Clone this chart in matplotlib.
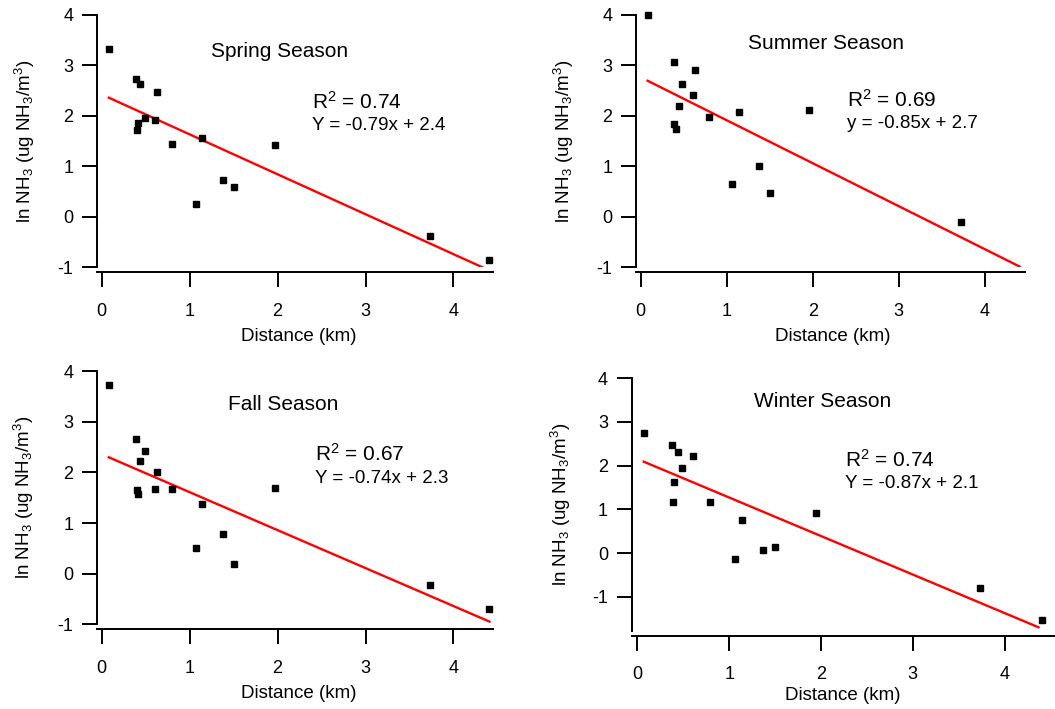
import numpy as np
import matplotlib
matplotlib.use("Agg")
import matplotlib.pyplot as plt

plt.rcParams['font.family'] = ['Liberation Sans', 'DejaVu Sans']
plt.rcParams['mathtext.default'] = 'regular'
plt.rcParams['axes.unicode_minus'] = False

# distances (km) and ln NH3 for each season
spring_x = [0.08, 0.39, 0.40, 0.41, 0.44, 0.49, 0.61, 0.63, 0.80, 1.07, 1.14, 1.38, 1.50, 1.97, 3.73, 4.41]
spring_y = [3.32, 2.72, 1.72, 1.85, 2.63, 1.95, 1.92, 2.47, 1.44, 0.25, 1.56, 0.73, 0.59, 1.42, -0.38, -0.86]

summer_x = [0.08, 0.39, 0.39, 0.41, 0.44, 0.48, 0.61, 0.63, 0.79, 1.06, 1.14, 1.37, 1.50, 1.96, 3.73]
summer_y = [4.00, 3.06, 1.84, 1.74, 2.20, 2.63, 2.41, 2.91, 1.98, 0.65, 2.08, 1.01, 0.475, 2.11, -0.10]

fall_x = [0.08, 0.39, 0.40, 0.41, 0.44, 0.49, 0.61, 0.63, 0.80, 1.07, 1.14, 1.38, 1.50, 1.97, 3.73, 4.41]
fall_y = [3.73, 2.66, 1.66, 1.58, 2.23, 2.43, 1.68, 2.01, 1.68, 0.51, 1.38, 0.78, 0.20, 1.70, -0.22, -0.70]

winter_x = [0.07, 0.38, 0.39, 0.40, 0.44, 0.49, 0.61, 0.79, 1.06, 1.14, 1.37, 1.50, 1.95, 3.73, 4.41]
winter_y = [2.74, 2.47, 1.17, 1.62, 2.32, 1.94, 2.23, 1.17, -0.14, 0.76, 0.07, 0.14, 0.92, -0.80, -1.53]

titles = ["Spring Season", "Summer Season", "Fall Season", "Winter Season"]
r2_labels = ["0.74", "0.69", "0.67", "0.74"]
eq_labels = ["Y = -0.79x + 2.4", "y = -0.85x + 2.7", "Y = -0.74x + 2.3", "Y = -0.87x + 2.1"]
slopes = [-0.79, -0.85, -0.75, -0.88]
intercepts = [2.42, 2.76, 2.36, 2.15]
# fitted line drawn from first site out to this distance
fit_end = [4.41, 4.41, 4.41, 4.37]

xs = [spring_x, summer_x, fall_x, winter_x]
ys = [spring_y, summer_y, fall_y, winter_y]

# panel layout (figure fractions) and limits
rects = [[0.0919, 0.6230, 0.3754, 0.3563],
         [0.6026, 0.6230, 0.3690, 0.3563],
         [0.0919, 0.1195, 0.3754, 0.3568],
         [0.5988, 0.1100, 0.4056, 0.3568]]
xlims = [(-0.055, 4.45), (-0.058, 4.47), (-0.055, 4.45), (-0.061, 4.60)]
ylims = [(-1, 4), (-1, 4), (-1, 4), (-1.78, 4)]
title_pos = [(0.462, 0.854), (0.488, 0.887), (0.470, 0.867), (0.446, 0.906)]
r2_pos = [(0.542, 0.629), (0.542, 0.636), (0.551, 0.645), (0.498, 0.649)]
eq_pos = [(0.542, 0.544), (0.542, 0.550), (0.551, 0.560), (0.498, 0.564)]
ylab_x = [-0.152, -0.153, -0.154, -0.137]
xlab_pos = [(0.51, -0.240), (0.506, -0.240), (0.51, -0.240), (0.493, -0.220)]

fig = plt.figure(figsize=(10.55, 7.09), dpi=100)

for i in range(4):
    ax = fig.add_axes(rects[i])
    x = np.array(xs[i])
    y = np.array(ys[i])
    xl = np.array([x.min(), fit_end[i]])
    ax.plot(xl, slopes[i] * xl + intercepts[i], color='#ff0000', lw=1.7)
    ax.plot(x, y, 's', color='black', ms=4.5, clip_on=False, zorder=3)
    ax.set_xlim(*xlims[i])
    ax.set_ylim(*ylims[i])
    ax.set_xticks([0, 1, 2, 3, 4])
    ax.set_yticks([-1, 0, 1, 2, 3, 4])
    ax.spines['top'].set_visible(False)
    ax.spines['right'].set_visible(False)
    ax.spines['bottom'].set_position(('outward', 3.5))
    for s in ['left', 'bottom']:
        ax.spines[s].set_linewidth(1.4)
    ax.tick_params(axis='both', direction='out', length=11, width=1.4, labelsize=13)
    ax.tick_params(axis='x', pad=11)
    ax.tick_params(axis='y', pad=6)
    ax.set_xlabel("Distance (km)", fontsize=13.5)
    ax.xaxis.set_label_coords(*xlab_pos[i])
    ax.set_ylabel(r"ln NH$_3$ (ug NH$_3$/m$^3$)", fontsize=13.5)
    ax.yaxis.set_label_coords(ylab_x[i], 0.5)
    ax.text(title_pos[i][0], title_pos[i][1], titles[i], transform=ax.transAxes,
            ha='center', va='center', fontsize=15)
    ax.text(r2_pos[i][0], r2_pos[i][1], "R$^2$ = " + r2_labels[i], transform=ax.transAxes,
            ha='left', va='baseline', fontsize=15)
    ax.text(eq_pos[i][0], eq_pos[i][1], eq_labels[i], transform=ax.transAxes,
            ha='left', va='baseline', fontsize=13.5)

fig.savefig("out.png", dpi=100)
